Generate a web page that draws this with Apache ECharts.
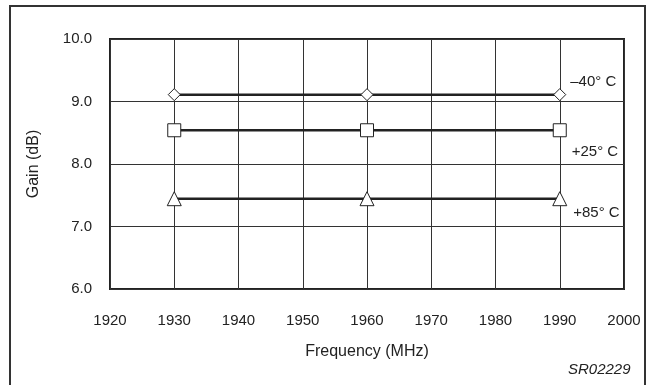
<!DOCTYPE html>
<html>
<head>
<meta charset="utf-8">
<script src="https://cdn.jsdelivr.net/npm/echarts@6/dist/echarts.min.js"></script>
<style>
  html, body { margin: 0; padding: 0; background: #fff; }
  #chart { width: 654px; height: 385px; }
</style>
</head>
<body>
<div id="chart"></div>
<script>
// frequency points (MHz)
const freqs = [1930, 1960, 1990];
// gain at each temperature (dB)
const gainM40 = [9.11, 9.11, 9.11];
const gainP25 = [8.54, 8.54, 8.54];
const gainP85 = [7.445, 7.445, 7.445];
const seriesNames = ['\u201340\u00b0 C', '+25\u00b0 C', '+85\u00b0 C'];

const font = 'Liberation Sans, Arial, sans-serif';

function pairs(ys) {
  return freqs.map((f, i) => [f, ys[i]]);
}

function makeSeries(name, ys, symbol, size, labelOffset) {
  const data = pairs(ys);
  const last = data.length - 1;
  return {
    name: name,
    type: 'line',
    data: data.map((d, i) => i === last ? {
      value: d,
      label: {
        show: true,
        formatter: name,
        position: 'right',
        offset: labelOffset,
        color: '#222',
        fontFamily: font,
        fontSize: 15
      }
    } : d),
    symbol: symbol,
    symbolSize: size,
    showSymbol: true,
    lineStyle: { color: '#222', width: 2.5 },
    itemStyle: { color: '#fff', borderColor: '#222', borderWidth: 1 },
    z: 3
  };
}

const chart = echarts.init(document.getElementById('chart'));
chart.setOption({
  animation: false,
  backgroundColor: '#fff',
  grid: {
    left: 110, right: 30, top: 39, bottom: 96,
    show: true, borderColor: '#222', borderWidth: 2
  },
  xAxis: {
    type: 'value',
    min: 1920, max: 2000, interval: 10,
    name: 'Frequency (MHz)',
    nameLocation: 'middle',
    nameGap: 55,
    nameTextStyle: { color: '#222', fontFamily: font, fontSize: 16 },
    axisLine: { show: false },
    axisTick: { show: false },
    axisLabel: {
      color: '#222', fontFamily: font, fontSize: 15, margin: 24,
      formatter: v => String(v)
    },
    splitLine: { show: true, lineStyle: { color: '#333', width: 1 } }
  },
  yAxis: {
    type: 'value',
    min: 6, max: 10, interval: 1,
    name: 'Gain (dB)',
    nameLocation: 'middle',
    nameGap: 68,
    nameTextStyle: { color: '#222', fontFamily: font, fontSize: 16 },
    axisLine: { show: false },
    axisTick: { show: false },
    axisLabel: {
      color: '#222', fontFamily: font, fontSize: 15, margin: 18,
      formatter: v => v.toFixed(1)
    },
    splitLine: { show: true, lineStyle: { color: '#333', width: 1 } }
  },
  series: [
    makeSeries(seriesNames[0], gainM40, 'diamond', 12, [-1, -13]),
    makeSeries(seriesNames[1], gainP25, 'rect', 13, [0, 22]),
    makeSeries(seriesNames[2], gainP85, 'triangle', 14, [1, 14])
  ],
  graphic: [
    {
      type: 'rect',
      shape: { x: 10, y: 6, width: 635, height: 400 },
      style: { fill: 'none', stroke: '#333', lineWidth: 2 },
      silent: true
    },
    {
      type: 'text',
      left: 568, top: 362,
      style: {
        text: 'SR02229',
        fill: '#222',
        font: 'italic 15px ' + font
      }
    }
  ]
});
</script>
</body>
</html>
